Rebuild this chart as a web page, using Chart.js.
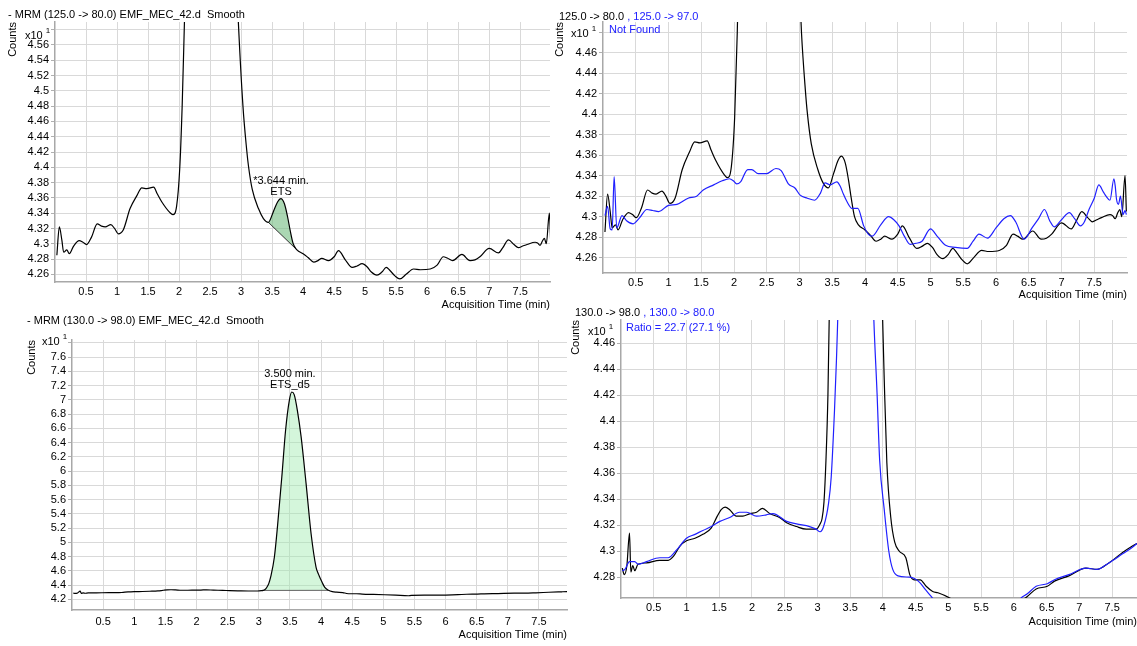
<!DOCTYPE html>
<html>
<head>
<meta charset="utf-8">
<script src="https://cdn.jsdelivr.net/npm/chart.js@4.4.1/dist/chart.umd.min.js"></script>
<style>
  body { margin: 0; width: 1137px; height: 646px; position: relative; overflow: hidden; background: #fff;
         font-family: "Liberation Sans", Arial, sans-serif; font-size: 11px; color: #000; }
  canvas { position: absolute; }
  .txt { position: absolute; white-space: pre; line-height: 13px; }
  .blue { color: #2020ff; }
  .txt sup { font-size: 8px; position: relative; top: -1px; }
</style>
</head>
<body>
<canvas id="tl" width="556" height="314" style="left:0;top:0"></canvas>
<canvas id="tr" width="589" height="314" style="left:548px;top:0"></canvas>
<canvas id="bl" width="570" height="332" style="left:0;top:314px"></canvas>
<canvas id="br" width="572" height="341" style="left:565px;top:305px"></canvas>

<div class="txt" style="left:8px;top:8px">- MRM (125.0 -&gt; 80.0) EMF_MEC_42.d  Smooth</div>
<div class="txt" style="left:25px;top:25px">x10 <sup>1</sup></div>

<div class="txt" style="left:559px;top:10px">125.0 -&gt; 80.0<span class="blue"> , 125.0 -&gt; 97.0</span></div>
<div class="txt" style="left:571px;top:23px">x10 <sup>1</sup></div>
<div class="txt blue" style="left:609px;top:23px">Not Found</div>

<div class="txt" style="left:27px;top:314px">- MRM (130.0 -&gt; 98.0) EMF_MEC_42.d  Smooth</div>
<div class="txt" style="left:42px;top:331px">x10 <sup>1</sup></div>

<div class="txt" style="left:575px;top:306px">130.0 -&gt; 98.0<span class="blue"> , 130.0 -&gt; 80.0</span></div>
<div class="txt" style="left:588px;top:321px">x10 <sup>1</sup></div>
<div class="txt blue" style="left:626px;top:321px">Ratio = 22.7 (27.1 %)</div>

<script>
// --- data: acquisition time (min) and counts (x10^1) ---

// 125.0 -> 80.0 (ETS)
const ets80Time = [0.03, 0.07, 0.11, 0.14, 0.19, 0.23, 0.30, 0.39, 0.45, 0.51, 0.59, 0.68, 0.75, 0.81, 0.90, 0.96,
  1.02, 1.10, 1.21, 1.32, 1.40, 1.48, 1.59, 1.65, 1.72, 1.85, 1.90, 1.96, 2.01, 2.05, 2.09, 2.20, 2.50, 2.80, 2.95,
  3.03, 3.09, 3.12, 3.18, 3.28, 3.36, 3.44, 3.52, 3.59, 3.64, 3.70, 3.75, 3.79, 3.84, 3.90, 4.00, 4.08, 4.17, 4.24,
  4.30, 4.41, 4.50, 4.57, 4.68, 4.79, 4.87, 4.95, 5.03, 5.10, 5.19, 5.27, 5.34, 5.40, 5.48, 5.56, 5.66, 5.78, 5.89,
  6.05, 6.16, 6.26, 6.33, 6.41, 6.56, 6.69, 6.77, 6.85, 7.00, 7.15, 7.22, 7.31, 7.40, 7.47, 7.54, 7.61, 7.74, 7.78,
  7.82, 7.86, 7.89, 7.92, 7.97, 7.99];
const ets80Counts = [4.285, 4.322, 4.305, 4.289, 4.292, 4.287, 4.297, 4.304, 4.302, 4.299, 4.309, 4.326, 4.323, 4.322, 4.325, 4.320,
  4.313, 4.318, 4.346, 4.363, 4.373, 4.372, 4.374, 4.365, 4.355, 4.341, 4.338, 4.349, 4.397, 4.48, 4.60, 4.90, 5.30, 4.90, 4.60,
  4.48, 4.423, 4.401, 4.371, 4.346, 4.333, 4.328, 4.342, 4.355, 4.359, 4.352, 4.335, 4.318, 4.300, 4.292, 4.287, 4.282, 4.276, 4.278,
  4.281, 4.278, 4.283, 4.291, 4.279, 4.269, 4.271, 4.274, 4.270, 4.263, 4.259, 4.263, 4.269, 4.265, 4.258, 4.254, 4.260, 4.267, 4.266,
  4.267, 4.272, 4.283, 4.281, 4.278, 4.286, 4.278, 4.279, 4.283, 4.294, 4.288, 4.295, 4.305, 4.299, 4.295, 4.297, 4.299, 4.302, 4.301,
  4.298, 4.304, 4.307, 4.300, 4.340, 4.305];

// 125.0 -> 97.0 (ETS qualifier)
const ets97Time = [0.03, 0.07, 0.11, 0.14, 0.17, 0.21, 0.29, 0.36, 0.46, 0.56, 0.67, 0.76, 0.85, 1.00, 1.13, 1.30,
  1.43, 1.53, 1.69, 1.82, 1.93, 1.99, 2.04, 2.10, 2.21, 2.27, 2.37, 2.50, 2.64, 2.72, 2.83, 2.93, 3.01, 3.12, 3.23,
  3.32, 3.39, 3.47, 3.57, 3.62, 3.67, 3.73, 3.80, 3.89, 3.98, 4.05, 4.11, 4.24, 4.36, 4.44, 4.52, 4.60, 4.69, 4.78,
  4.87, 5.00, 5.10, 5.23, 5.38, 5.56, 5.65, 5.74, 5.87, 6.00, 6.12, 6.22, 6.30, 6.43, 6.55, 6.65, 6.74, 6.82, 6.89,
  7.00, 7.12, 7.20, 7.29, 7.35, 7.42, 7.50, 7.57, 7.64, 7.68, 7.74, 7.80, 7.82, 7.84, 7.87, 7.90, 7.94, 7.97, 7.99];
const ets97Counts = [4.301, 4.310, 4.288, 4.287, 4.339, 4.289, 4.301, 4.296, 4.293, 4.299, 4.307, 4.306, 4.305, 4.311, 4.312, 4.318,
  4.320, 4.326, 4.331, 4.335, 4.337, 4.335, 4.332, 4.334, 4.346, 4.346, 4.342, 4.342, 4.347, 4.345, 4.332, 4.328, 4.321, 4.318, 4.316,
  4.323, 4.333, 4.331, 4.334, 4.330, 4.322, 4.314, 4.308, 4.308, 4.291, 4.283, 4.281, 4.292, 4.300, 4.297, 4.291, 4.281, 4.273, 4.274,
  4.276, 4.288, 4.281, 4.272, 4.270, 4.269, 4.276, 4.283, 4.279, 4.289, 4.298, 4.301, 4.295, 4.278, 4.289, 4.298, 4.307, 4.296, 4.290,
  4.297, 4.304, 4.298, 4.291, 4.295, 4.307, 4.318, 4.331, 4.324, 4.320, 4.316, 4.337, 4.330, 4.317, 4.312, 4.320, 4.302, 4.306, 4.302];

// 130.0 -> 98.0 (ETS_d5)
const d5q98Time = [0.02, 0.05, 0.09, 0.13, 0.15, 0.18, 0.21, 0.26, 0.39, 0.59, 0.72, 0.80, 0.90, 1.00, 1.13, 1.25,
  1.38, 1.47, 1.53, 1.59, 1.66, 1.76, 1.86, 1.97, 2.07, 2.16, 2.27, 2.42, 2.53, 2.68, 2.83, 2.98, 3.04, 3.07, 3.10,
  3.13, 3.16, 3.19, 3.25, 3.30, 3.37, 3.43, 3.49, 3.53, 3.57, 3.62, 3.68, 3.76, 3.84, 3.92, 3.96, 4.00, 4.02, 4.06,
  4.12, 4.18, 4.25, 4.35, 4.41, 4.48, 4.57, 4.66, 4.76, 4.84, 5.02, 5.20, 5.40, 5.45, 5.70, 6.00, 6.11, 6.20, 6.34,
  6.51, 6.62, 6.84, 7.10, 7.27, 7.45, 7.66, 7.81, 7.88, 7.95];
const d5q98Counts = [4.287, 4.282, 4.289, 4.314, 4.284, 4.289, 4.285, 4.290, 4.291, 4.293, 4.293, 4.296, 4.304, 4.308, 4.310, 4.313,
  4.318, 4.327, 4.332, 4.334, 4.332, 4.327, 4.327, 4.329, 4.330, 4.333, 4.329, 4.326, 4.322, 4.319, 4.317, 4.317, 4.321, 4.325, 4.338,
  4.37, 4.42, 4.51, 4.79, 5.22, 5.92, 6.57, 6.99, 7.11, 7.07, 6.85, 6.48, 5.82, 5.12, 4.65, 4.55, 4.47, 4.432, 4.368,
  4.326, 4.307, 4.300, 4.295, 4.282, 4.278, 4.278, 4.273, 4.269, 4.268, 4.264, 4.258, 4.250, 4.256, 4.258, 4.260, 4.262, 4.265, 4.271,
  4.273, 4.277, 4.281, 4.287, 4.286, 4.291, 4.299, 4.304, 4.306, 4.308];

// 130.0 -> 80.0 (ETS_d5 qualifier)
const d5q80Time = [0.02, 0.06, 0.13, 0.21, 0.26, 0.39, 0.59, 0.72, 0.85, 1.00, 1.13, 1.25, 1.38, 1.51, 1.66, 1.81,
  1.92, 2.07, 2.22, 2.32, 2.53, 2.68, 2.88, 2.98, 3.04, 3.10, 3.17, 3.21, 3.26, 3.29, 3.32, 3.40, 3.55, 3.70, 3.82,
  3.86, 3.91, 3.95, 4.02, 4.09, 4.15, 4.23, 4.41, 4.48, 4.56, 4.64, 4.74, 4.85, 5.20, 5.60, 6.00, 6.11, 6.20, 6.34,
  6.51, 6.62, 6.84, 7.10, 7.27, 7.45, 7.66, 7.81, 7.88];
const d5q80Counts = [4.285, 4.286, 4.292, 4.292, 4.290, 4.292, 4.295, 4.295, 4.301, 4.310, 4.313, 4.316, 4.319, 4.323, 4.326, 4.330,
  4.330, 4.327, 4.328, 4.329, 4.323, 4.321, 4.319, 4.317, 4.315, 4.320, 4.337, 4.357, 4.408, 4.447, 4.50, 4.75, 5.05, 4.80, 4.55,
  4.48, 4.422, 4.370, 4.332, 4.300, 4.286, 4.281, 4.280, 4.279, 4.276, 4.271, 4.265, 4.258, 4.250, 4.250, 4.256, 4.264, 4.267, 4.273,
  4.275, 4.278, 4.282, 4.287, 4.286, 4.291, 4.298, 4.303, 4.306];

// integration baselines (start, end)
const etsBaseTime = [3.44, 3.90];
const etsBaseCounts = [4.328, 4.292];
const d5BaseTime = [3.07, 4.12];
const d5BaseCounts = [4.325, 4.326];

// tick values
const xTicks = [0.5, 1, 1.5, 2, 2.5, 3, 3.5, 4, 4.5, 5, 5.5, 6, 6.5, 7, 7.5];
const tlYTicks = [4.26, 4.28, 4.3, 4.32, 4.34, 4.36, 4.38, 4.4, 4.42, 4.44, 4.46, 4.48, 4.5, 4.52, 4.54, 4.56, 4.58];
const trYTicks = [4.26, 4.28, 4.3, 4.32, 4.34, 4.36, 4.38, 4.4, 4.42, 4.44, 4.46, 4.48];
const blYTicks = [4.2, 4.4, 4.6, 4.8, 5, 5.2, 5.4, 5.6, 5.8, 6, 6.2, 6.4, 6.6, 6.8, 7, 7.2, 7.4, 7.6, 7.8];
const brYTicks = [4.28, 4.3, 4.32, 4.34, 4.36, 4.38, 4.4, 4.42, 4.44, 4.46];

// --- helpers ---
const FONT = { family: 'Liberation Sans', size: 11 };
const BLACK = '#000000';
const BLUE = '#2020ff';
const fmt = v => String(Number(v.toFixed(2)));
const pts = (t, c) => t.map((x, i) => ({ x, y: c[i] }));
const between = (t, c, a, b) => pts(t, c).filter(p => p.x >= a - 1e-9 && p.x <= b + 1e-9);

function curve(data, color) {
  return { data, borderColor: color, borderWidth: 1.2, pointRadius: 0, fill: false,
           cubicInterpolationMode: 'monotone', order: 0 };
}
// fill under the peak down to the baseline (dataset index 2)
function peakFill(data, color) {
  return { data, borderWidth: 0, pointRadius: 0, backgroundColor: color, fill: 2,
           cubicInterpolationMode: 'monotone', order: 2 };
}
function baseline(data, color) {
  return { data, borderColor: color, borderWidth: 1, pointRadius: 0, fill: false, tension: 0, order: 1 };
}

// peak annotation text above the apex
const peakLabel = {
  id: 'peakLabel',
  afterDatasetsDraw(chart, args, opts) {
    if (!opts || !opts.lines) return;
    const { ctx, scales } = chart;
    const px = scales.x.getPixelForValue(opts.x);
    const py = scales.y.getPixelForValue(opts.y);
    ctx.save();
    ctx.font = '11px "Liberation Sans"';
    ctx.fillStyle = '#000';
    ctx.textAlign = 'center';
    ctx.textBaseline = 'middle';
    const n = opts.lines.length;
    opts.lines.forEach((t, i) => ctx.fillText(t, px, py - 7 - 11 * (n - 1 - i)));
    ctx.restore();
  }
};

function makePanel(p) {
  new Chart(document.getElementById(p.id), {
    type: 'line',
    data: { datasets: p.datasets },
    options: {
      responsive: false,
      animation: false,
      events: [],
      layout: { padding: { left: 0, top: p.area.top, right: p.width - p.area.right, bottom: 0 } },
      plugins: { legend: { display: false }, tooltip: { enabled: false }, peakLabel: p.peak || false },
      scales: {
        x: {
          type: 'linear', min: 0, max: p.xMax,
          afterBuildTicks: s => { s.ticks = xTicks.map(v => ({ value: v })); },
          afterFit: s => { s.height = p.height - p.area.bottom; },
          grid: { color: '#d9d9d9', drawTicks: false },
          border: { color: '#a8a8a8', width: 1.5 },
          ticks: { font: FONT, color: '#000', padding: p.xTickPad, autoSkip: false, maxRotation: 0,
                   callback: v => fmt(v) },
          title: { display: true, text: 'Acquisition Time (min)', align: 'end', font: FONT, color: '#000',
                   padding: { top: 0, bottom: p.xTitlePad } }
        },
        y: {
          type: 'linear', min: p.yMin, max: p.yMax,
          afterBuildTicks: s => { s.ticks = p.yTicks.map(v => ({ value: v })); },
          afterFit: s => { s.width = p.area.left; },
          grid: { color: '#d9d9d9', drawTicks: true, tickLength: 4, tickColor: '#b0b0b0' },
          border: { color: '#a8a8a8', width: 1.5 },
          ticks: { font: FONT, color: '#000', padding: 2, autoSkip: false,
                   callback: (v, i, t) => (p.hideTop && i === t.length - 1) ? '' : fmt(v) },
          title: { display: true, text: 'Counts', align: 'end', font: FONT, color: '#000',
                   padding: { top: p.yTitlePad, bottom: 0 } }
        }
      }
    },
    plugins: [peakLabel]
  });
}

makePanel({
  id: 'tl', width: 556, height: 314, area: { left: 55, top: 22, right: 550, bottom: 282 },
  xMax: 7.98, yMin: 4.25, yMax: 4.59, yTicks: tlYTicks, hideTop: true,
  xTickPad: 3, xTitlePad: 2, yTitlePad: 6,
  peak: { x: 3.644, y: 4.359, lines: ['*3.644 min.', 'ETS'] },
  datasets: [
    curve(pts(ets80Time, ets80Counts), BLACK),
    peakFill(between(ets80Time, ets80Counts, etsBaseTime[0], etsBaseTime[1]), 'rgba(120,190,132,0.62)'),
    baseline(pts(etsBaseTime, etsBaseCounts), '#303030')
  ]
});

makePanel({
  id: 'tr', width: 589, height: 314, area: { left: 55, top: 22, right: 579, bottom: 273 },
  xMax: 8.0, yMin: 4.245, yMax: 4.49, yTicks: trYTicks, hideTop: true,
  xTickPad: 3, xTitlePad: 12, yTitlePad: 5,
  datasets: [
    curve(pts(ets97Time, ets97Counts), BLUE),
    curve(pts(ets80Time, ets80Counts), BLACK)
  ]
});

makePanel({
  id: 'bl', width: 570, height: 332, area: { left: 72, top: 26, right: 567, bottom: 296 },
  xMax: 7.95, yMin: 4.05, yMax: 7.84, yTicks: blYTicks, hideTop: true,
  xTickPad: 5, xTitlePad: 4, yTitlePad: 25,
  peak: { x: 3.5, y: 7.11, lines: ['3.500 min.', 'ETS_d5'] },
  datasets: [
    curve(pts(d5q98Time, d5q98Counts), BLACK),
    peakFill(between(d5q98Time, d5q98Counts, d5BaseTime[0], d5BaseTime[1]), 'rgba(160,235,175,0.45)'),
    baseline(pts(d5BaseTime, d5BaseCounts), '#606060')
  ]
});

makePanel({
  id: 'br', width: 572, height: 341, area: { left: 56, top: 15, right: 572, bottom: 293 },
  xMax: 7.88, yMin: 4.264, yMax: 4.478, yTicks: brYTicks, hideTop: false,
  xTickPad: 3, xTitlePad: 17, yTitlePad: 4,
  datasets: [
    curve(pts(d5q80Time, d5q80Counts), BLUE),
    curve(pts(d5q98Time, d5q98Counts), BLACK)
  ]
});
</script>
</body>
</html>
